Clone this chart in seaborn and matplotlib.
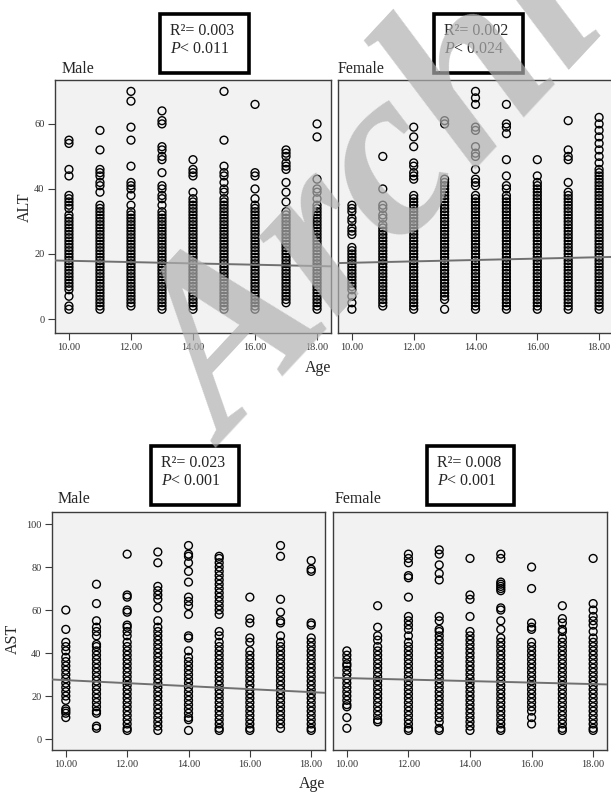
import pandas as pd
import matplotlib
matplotlib.use("Agg")
import matplotlib.pyplot as plt
import seaborn as sns
from matplotlib.patches import Rectangle

# valores (uma lista por idade, 10 a 18 anos)
ages = [10, 11, 12, 13, 14, 15, 16, 17, 18]
age_ticks = [10, 12, 14, 16, 18]
age_tick_labels = ["10.00", "12.00", "14.00", "16.00", "18.00"]

alt_male = [
    [55, 54, 46, 44, 38, 37, 36, 35, 34, 32, 31, 30, 29, 28, 27, 26, 25, 24, 23, 22, 21, 20, 19, 18, 17, 16, 15, 14, 13, 12, 11, 10, 9, 7, 4, 3],
    [58, 52, 46, 45, 44, 42, 41, 39, 35, 34, 33, 32, 31, 30, 29, 28, 27, 26, 25, 24, 23, 22, 21, 20, 19, 18, 17, 16, 15, 14, 13, 12, 11, 10, 9, 8, 7, 6, 5, 4, 3],
    [70, 67, 59, 55, 47, 42, 41, 40, 38, 35, 33, 32, 31, 30, 29, 28, 27, 26, 25, 24, 23, 22, 21, 20, 19, 18, 17, 16, 15, 14, 13, 12, 11, 10, 9, 8, 7, 6, 5, 4],
    [64, 61, 60, 53, 52, 50, 49, 45, 41, 40, 38, 37, 35, 33, 32, 31, 30, 29, 28, 27, 26, 25, 24, 23, 22, 21, 20, 19, 18, 17, 16, 15, 14, 13, 12, 11, 10, 9, 8, 7, 6, 5, 4, 3],
    [49, 46, 45, 44, 39, 37, 36, 35, 34, 33, 32, 31, 30, 29, 28, 27, 26, 25, 24, 23, 22, 21, 20, 19, 18, 17, 16, 15, 14, 13, 12, 11, 10, 9, 8, 7, 6, 5, 4, 3],
    [70, 55, 47, 45, 44, 42, 40, 39, 37, 36, 35, 34, 33, 32, 31, 30, 29, 28, 27, 26, 25, 24, 23, 22, 21, 20, 19, 18, 17, 16, 15, 14, 13, 12, 11, 10, 9, 8, 7, 6, 5, 4, 3],
    [66, 45, 44, 40, 37, 35, 34, 33, 32, 31, 30, 29, 28, 27, 26, 25, 24, 23, 22, 21, 20, 19, 18, 17, 16, 15, 14, 13, 12, 11, 10, 9, 8, 7, 6, 5, 4, 3],
    [52, 51, 50, 48, 47, 46, 42, 39, 36, 33, 32, 31, 30, 29, 28, 27, 26, 25, 24, 23, 22, 21, 20, 19, 18, 17, 16, 15, 14, 13, 12, 11, 10, 9, 8, 7, 6, 5],
    [60, 56, 43, 40, 39, 37, 35, 34, 33, 32, 31, 30, 29, 28, 27, 26, 25, 24, 23, 22, 21, 20, 19, 18, 17, 16, 15, 14, 13, 12, 11, 10, 9, 8, 7, 6, 5, 4, 3],
]

alt_female = [
    [35, 34, 33, 31, 30, 28, 27, 26, 22, 21, 20, 19, 18, 17, 16, 15, 14, 13, 12, 11, 10, 9, 7, 5, 3],
    [50, 40, 35, 34, 32, 31, 29, 28, 27, 26, 25, 24, 23, 22, 21, 20, 19, 18, 17, 16, 15, 14, 13, 12, 11, 10, 9, 8, 7, 6, 5, 4],
    [59, 56, 53, 48, 47, 45, 44, 43, 38, 37, 36, 35, 34, 33, 32, 31, 30, 29, 28, 27, 26, 25, 24, 23, 22, 21, 20, 19, 18, 17, 16, 15, 14, 13, 12, 11, 10, 9, 8, 7, 6, 5, 4, 3],
    [61, 60, 43, 42, 41, 40, 39, 38, 37, 36, 35, 34, 33, 32, 31, 30, 29, 28, 27, 26, 25, 24, 23, 22, 21, 20, 19, 18, 17, 16, 15, 14, 13, 12, 11, 10, 9, 8, 7, 6, 3],
    [70, 68, 66, 59, 58, 53, 51, 50, 46, 43, 42, 41, 38, 37, 36, 35, 34, 33, 32, 31, 30, 29, 28, 27, 26, 25, 24, 23, 22, 21, 20, 19, 18, 17, 16, 15, 14, 13, 12, 11, 10, 9, 8, 7, 6, 5, 4, 3],
    [66, 60, 59, 57, 49, 44, 41, 40, 38, 37, 36, 35, 34, 33, 32, 31, 30, 29, 28, 27, 26, 25, 24, 23, 22, 21, 20, 19, 18, 17, 16, 15, 14, 13, 12, 11, 10, 9, 8, 7, 6, 5, 4, 3],
    [49, 44, 42, 41, 40, 39, 38, 37, 36, 35, 34, 33, 32, 31, 30, 29, 28, 27, 26, 25, 24, 23, 22, 21, 20, 19, 18, 17, 16, 15, 14, 13, 12, 11, 10, 9, 8, 7, 6, 5, 4, 3],
    [61, 52, 50, 49, 42, 39, 38, 37, 36, 35, 34, 33, 32, 31, 30, 29, 28, 27, 26, 25, 24, 23, 22, 21, 20, 19, 18, 17, 16, 15, 14, 13, 12, 11, 10, 9, 8, 7, 6, 5, 4, 3],
    [62, 60, 58, 56, 54, 52, 50, 48, 46, 45, 44, 43, 42, 41, 40, 39, 38, 37, 36, 35, 34, 33, 32, 31, 30, 29, 28, 27, 26, 25, 24, 23, 22, 21, 20, 19, 18, 17, 16, 15, 14, 13, 12, 11, 10, 9, 8, 7, 6, 5, 4, 3],
]

ast_male = [
    [60, 51, 45, 43, 41, 38, 36, 34, 32, 30, 28, 26, 24, 22, 20, 18, 14, 13, 12, 10],
    [72, 63, 55, 52, 50, 48, 44, 43, 41, 39, 37, 35, 33, 31, 29, 27, 25, 23, 21, 19, 17, 15, 13, 12, 6, 5],
    [86, 67, 66, 60, 59, 53, 52, 50, 48, 45, 43, 41, 39, 37, 35, 33, 31, 29, 27, 25, 23, 21, 19, 17, 15, 13, 11, 9, 7, 5, 4],
    [87, 82, 71, 69, 67, 65, 61, 55, 52, 50, 48, 46, 44, 42, 40, 38, 36, 34, 32, 30, 28, 26, 24, 22, 20, 18, 16, 14, 12, 10, 8, 6, 4],
    [90, 86, 85, 82, 78, 73, 66, 64, 62, 58, 48, 47, 41, 38, 36, 34, 32, 30, 28, 26, 24, 22, 20, 18, 16, 14, 12, 10, 9, 4],
    [85, 84, 82, 80, 78, 76, 74, 72, 70, 68, 66, 64, 62, 60, 58, 50, 48, 45, 43, 41, 39, 37, 35, 33, 31, 29, 27, 25, 23, 21, 19, 17, 15, 13, 11, 9, 7, 5, 4],
    [66, 56, 54, 47, 45, 41, 39, 37, 35, 33, 31, 29, 27, 25, 23, 21, 19, 17, 15, 13, 11, 9, 7, 5, 4],
    [90, 85, 65, 59, 55, 54, 48, 45, 43, 41, 39, 37, 35, 33, 31, 29, 27, 25, 23, 21, 19, 17, 15, 13, 11, 9, 7, 5],
    [83, 79, 78, 54, 53, 47, 45, 43, 41, 39, 37, 35, 33, 31, 29, 27, 25, 23, 21, 19, 17, 15, 13, 11, 9, 7, 5, 4],
]

ast_female = [
    [41, 39, 37, 35, 34, 32, 30, 28, 26, 24, 22, 20, 18, 16, 15, 10, 5],
    [62, 52, 48, 46, 43, 41, 39, 37, 35, 33, 31, 29, 27, 25, 23, 21, 19, 17, 15, 13, 11, 9, 8],
    [86, 84, 82, 76, 75, 66, 57, 55, 53, 51, 48, 45, 43, 41, 39, 37, 35, 33, 31, 29, 27, 25, 23, 21, 19, 17, 15, 13, 11, 9, 7, 5, 4],
    [88, 86, 81, 77, 74, 57, 55, 51, 50, 48, 46, 44, 42, 40, 38, 36, 34, 32, 30, 28, 26, 24, 22, 20, 18, 16, 14, 12, 10, 8, 5, 4],
    [84, 67, 65, 57, 50, 48, 46, 44, 42, 40, 38, 36, 34, 32, 30, 28, 26, 24, 22, 20, 18, 16, 14, 12, 10, 8, 6, 4],
    [86, 84, 73, 72, 71, 70, 69, 61, 60, 55, 51, 47, 45, 43, 41, 39, 37, 35, 33, 31, 29, 27, 25, 23, 21, 19, 17, 15, 13, 11, 9, 7, 5, 4],
    [80, 70, 54, 52, 51, 45, 43, 41, 39, 37, 35, 33, 31, 29, 27, 25, 23, 21, 19, 17, 15, 13, 10, 7],
    [62, 56, 54, 51, 50, 47, 45, 43, 41, 39, 37, 35, 33, 31, 29, 27, 25, 23, 21, 19, 17, 15, 13, 11, 9, 7, 5, 4],
    [84, 63, 60, 57, 55, 53, 50, 47, 45, 43, 41, 39, 37, 35, 33, 31, 29, 27, 25, 23, 21, 19, 17, 15, 13, 11, 9, 7, 5, 4],
]

# retas de regressão (valor nas bordas do eixo)
fit_age = [9.55, 18.45]
alt_male_fit = [18.0, 16.2]
alt_female_fit = [17.2, 19.1]
ast_male_fit = [27.7, 21.5]
ast_female_fit = [28.5, 25.4]

r2_values = ["0.003", "0.002", "0.023", "0.008"]
p_values = ["0.011", "0.024", "0.001", "0.001"]

W, H = 611, 793
SERIF = "Liberation Serif"

sns.set_theme(style="white")
plt.rcParams["font.family"] = [SERIF, "DejaVu Serif"]
plt.rcParams["mathtext.fontset"] = "custom"
plt.rcParams["mathtext.rm"] = SERIF
plt.rcParams["mathtext.it"] = SERIF + ":italic"


def to_frame(columns):
    rows = [(a, v) for a, col in zip(ages, columns) for v in col]
    return pd.DataFrame(rows, columns=["Age", "value"])


def px_axes(fig, x0, y0, x1, y1):
    return fig.add_axes([x0 / W, 1 - y1 / H, (x1 - x0) / W, (y1 - y0) / H])


def draw_panel(ax, columns, fit, ylim, yticks, show_y):
    df = to_frame(columns)
    sns.scatterplot(data=df, x="Age", y="value", ax=ax, s=32, marker="o",
                    linewidth=1.0, legend=False, zorder=3)
    pts = ax.collections[-1]
    pts.set_facecolor("none")
    pts.set_edgecolor("black")
    sns.lineplot(x=fit_age, y=fit, ax=ax, color="#707070", lw=1.4, zorder=4)
    ax.set_xlim(9.55, 18.45)
    ax.set_ylim(*ylim)
    ax.set_facecolor("#f2f2f2")
    ax.set_xticks(age_ticks)
    ax.set_xticklabels(age_tick_labels)
    ax.set_yticks(yticks)
    ax.set_xlabel("")
    ax.set_ylabel("")
    for sp in ax.spines.values():
        sp.set_color("#3c3c3c")
        sp.set_linewidth(1.0)
    ax.tick_params(direction="out", length=5, width=0.8, color="#3c3c3c",
                   labelsize=7.5, labelcolor="#333333", pad=2.5,
                   bottom=True, left=show_y, labelleft=show_y)


def stat_box(fig, x0, y0, x1, y1, r2, p):
    fig.patches.append(Rectangle((x0 / W, 1 - y1 / H), (x1 - x0) / W, (y1 - y0) / H,
                                 transform=fig.transFigure, fc="white", ec="black",
                                 lw=2.6, zorder=5))
    fig.text((x0 + 10) / W, 1 - (y0 + 21) / H, "R\u00b2= " + r2, fontsize=11.5,
             va="baseline", ha="left", zorder=6)
    fig.text((x0 + 10) / W, 1 - (y0 + 39) / H, "$P$< " + p, fontsize=11.5,
             va="baseline", ha="left", zorder=6)


fig = plt.figure(figsize=(W / 100, H / 100), dpi=100)

ax1 = px_axes(fig, 55, 80, 331, 333)
draw_panel(ax1, alt_male, alt_male_fit, (-4.3, 73.5), [0, 20, 40, 60], True)
ax2 = px_axes(fig, 338, 80, 613, 333)
draw_panel(ax2, alt_female, alt_female_fit, (-4.3, 73.5), [0, 20, 40, 60], False)
ax3 = px_axes(fig, 52, 512, 325, 750)
draw_panel(ax3, ast_male, ast_male_fit, (-5.1, 105.6), [0, 20, 40, 60, 80, 100], True)
ax4 = px_axes(fig, 333, 512, 607, 750)
draw_panel(ax4, ast_female, ast_female_fit, (-5.1, 105.6), [0, 20, 40, 60, 80, 100], False)

stat_box(fig, 160, 14, 249, 73, r2_values[0], p_values[0])
stat_box(fig, 434, 14, 523, 73, r2_values[1], p_values[1])
stat_box(fig, 151, 446, 239, 505, r2_values[2], p_values[2])
stat_box(fig, 427, 446, 514, 505, r2_values[3], p_values[3])

fig.text(62 / W, 1 - 73 / H, "Male", fontsize=11.5, va="baseline")
fig.text(338 / W, 1 - 73 / H, "Female", fontsize=11.5, va="baseline")
fig.text(58 / W, 1 - 503 / H, "Male", fontsize=11.5, va="baseline")
fig.text(335 / W, 1 - 503 / H, "Female", fontsize=11.5, va="baseline")

fig.text(25 / W, 1 - 207 / H, "ALT", fontsize=11.5, rotation=90, ha="center", va="center")
fig.text(318 / W, 1 - 368 / H, "Age", fontsize=11.5, ha="center", va="center")
fig.text(13 / W, 1 - 639 / H, "AST", fontsize=11.5, rotation=90, ha="center", va="center")
fig.text(312 / W, 1 - 784 / H, "Age", fontsize=11.5, ha="center", va="center")

# marca d'água
fig.text(228 / W, 1 - 448 / H, "Archive", fontsize=175, family=SERIF, style="italic",
         weight="bold", rotation=47, rotation_mode="anchor", ha="left", va="baseline",
         color="#b0b0b0", alpha=0.7, zorder=10)

fig.savefig("out.png", dpi=100)
